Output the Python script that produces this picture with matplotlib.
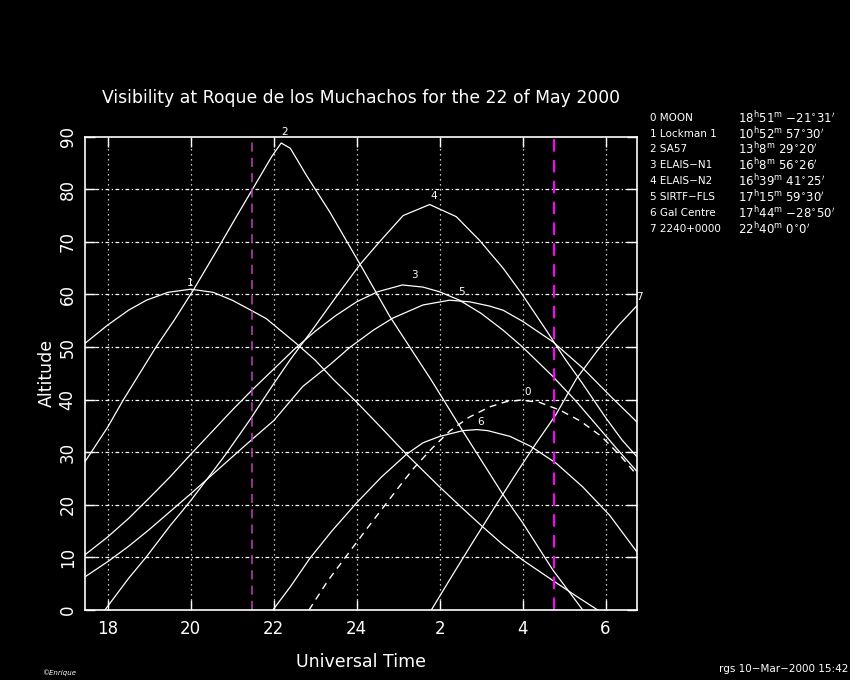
import matplotlib
matplotlib.use("Agg")
import matplotlib.pyplot as plt

# universal time in hours after 0h of the 22nd (24 -> 0h of next day)
moon_t = [22.85, 23.3, 23.86, 24.25, 24.65, 25.0, 25.38, 25.8, 26.24, 26.7, 27.2,
          27.6, 27.95, 28.4, 28.9, 29.4, 29.9, 30.35, 30.75]
moon_alt = [0, 5.5, 11.4, 15.5, 19.6, 23.2, 27.0, 30.6, 34.0, 36.6, 38.6,
            39.6, 39.9, 39.5, 38.0, 35.9, 33.0, 29.4, 25.7]

lockman_t = [17.45, 18.0, 18.5, 18.93, 19.45, 20.0, 20.54, 21.0, 21.45, 21.82, 22.54,
             23.0, 23.43, 23.99, 24.6, 25.2, 26.0, 26.5, 27.04, 27.5, 28.0, 28.73, 29.3, 29.81]
lockman_alt = [50.7, 54.2, 57.0, 58.9, 60.4, 61.0, 60.4, 58.9, 57.0, 55.4, 50.7,
               47.5, 43.9, 39.6, 34.6, 29.6, 23.4, 19.7, 15.8, 12.6, 9.5, 5.6, 2.6, 0]

sa57_t = [17.45, 18.0, 18.37, 19.17, 19.6, 20.06, 20.6, 21.1, 21.6, 21.95, 22.18,
          22.4, 22.8, 23.35, 24.07, 24.8, 25.8, 26.56, 27.53, 28.0, 28.73, 29.45]
sa57_alt = [28.2, 34.8, 39.9, 50.1, 55.1, 60.8, 68.0, 74.8, 81.5, 86.2, 88.8,
            87.8, 82.5, 75.7, 65.9, 55.8, 43.7, 34.0, 21.9, 16.6, 7.6, 0]

n1_t = [17.45, 18.0, 18.5, 19.0, 19.5, 20.0, 20.5, 21.0, 21.5, 22.0, 22.5, 23.0, 23.5,
        24.0, 24.5, 25.1, 25.6, 26.0, 26.48, 27.0, 27.53, 28.0, 28.73, 29.3, 29.8, 30.3, 30.75]
n1_alt = [10.5, 13.9, 17.4, 21.3, 25.3, 29.6, 33.8, 38.0, 42.0, 45.8, 49.6, 53.0, 56.0,
          58.6, 60.5, 61.8, 61.4, 60.5, 58.9, 56.4, 53.2, 50.0, 44.4, 39.6, 35.0, 30.4, 26.4]

n2_t = [17.93, 18.5, 18.93, 19.5, 19.98, 20.5, 20.86, 21.42, 21.98, 22.39, 22.87, 23.5,
        24.07, 24.55, 25.12, 25.76, 26.4, 26.96, 27.53, 28.0, 28.57, 29.0, 29.45, 30.0, 30.4, 30.75]
n2_alt = [0, 6.0, 10.1, 16.0, 20.6, 26.0, 29.8, 36.1, 42.8, 47.5, 52.6, 59.5,
          65.6, 70.0, 75.0, 77.1, 74.8, 70.3, 65.0, 59.9, 53.2, 48.0, 43.0, 36.6, 32.3, 29.2]

fls_t = [17.45, 18.0, 18.5, 19.0, 19.5, 20.0, 20.5, 21.0, 21.5, 22.0, 22.7, 23.35, 23.83,
         24.4, 24.87, 25.6, 26.24, 26.72, 27.2, 27.53, 28.0, 28.73, 29.45, 30.1, 30.75]
fls_alt = [6.3, 9.2, 12.1, 15.3, 18.7, 22.1, 25.6, 29.1, 32.6, 36.0, 42.5, 46.6, 49.9,
           53.2, 55.5, 58.0, 58.9, 58.6, 57.8, 57.0, 54.9, 51.0, 46.0, 40.8, 35.8]

gc_t = [21.98, 22.4, 22.87, 23.4, 23.99, 24.6, 25.2, 25.6, 26.0, 26.56, 26.9, 27.16,
        27.7, 28.2, 28.81, 29.45, 30.1, 30.75]
gc_alt = [0, 4.4, 9.8, 15.0, 20.3, 25.3, 29.6, 31.8, 33.0, 34.1, 34.3, 34.1,
          33.0, 31.1, 27.9, 23.4, 18.0, 11.1]

eq_t = [25.8, 26.3, 26.8, 27.3, 27.8, 28.3, 28.8, 29.3, 29.8, 30.3, 30.75]
eq_alt = [0, 6.5, 12.9, 19.2, 25.4, 31.4, 37.1, 44.0, 49.3, 54.0, 57.8]

# curve number labels (position near each curve)
label_nums = ['0', '1', '2', '3', '4', '5', '6', '7']
label_t = [28.12, 19.98, 22.27, 25.4, 25.86, 26.53, 26.99, 30.82]
label_alt = [41.4, 62.2, 90.8, 63.7, 78.7, 60.5, 35.7, 59.5]

names = ['MOON', 'Lockman 1', 'SA57', 'ELAIS\u2212N1', 'ELAIS\u2212N2',
         'SIRTF\u2212FLS', 'Gal Centre', '2240+0000']
coords = [r'18$^{\rm h}$51$^{\rm m}$ $-$21$^{\circ}$31$^{\prime}$',
          r'10$^{\rm h}$52$^{\rm m}$ 57$^{\circ}$30$^{\prime}$',
          r'13$^{\rm h}$8$^{\rm m}$ 29$^{\circ}$20$^{\prime}$',
          r'16$^{\rm h}$8$^{\rm m}$ 56$^{\circ}$26$^{\prime}$',
          r'16$^{\rm h}$39$^{\rm m}$ 41$^{\circ}$25$^{\prime}$',
          r'17$^{\rm h}$15$^{\rm m}$ 59$^{\circ}$30$^{\prime}$',
          r'17$^{\rm h}$44$^{\rm m}$ $-$28$^{\circ}$50$^{\prime}$',
          r'22$^{\rm h}$40$^{\rm m}$ 0$^{\circ}$0$^{\prime}$']

twilight = [21.47, 28.75]

xticks = [18, 20, 22, 24, 26, 28, 30]
xticklabels = ['18', '20', '22', '24', '2', '4', '6']
yticks = [0, 10, 20, 30, 40, 50, 60, 70, 80, 90]

fig = plt.figure(figsize=(8.5, 6.8), dpi=100, facecolor='black')
ax = fig.add_axes([0.1, 0.103, 0.649, 0.696], facecolor='black')

ax.plot(moon_t, moon_alt, color='white', lw=1, linestyle=(0, (5, 4)))
for t, a in [(lockman_t, lockman_alt), (sa57_t, sa57_alt), (n1_t, n1_alt),
             (n2_t, n2_alt), (fls_t, fls_alt), (gc_t, gc_alt), (eq_t, eq_alt)]:
    ax.plot(t, a, color='white', lw=0.9)

ax.axvline(twilight[0], color='#c040c0', lw=1.1, linestyle=(0, (6, 4)))
ax.axvline(twilight[1], color='#ff00ff', lw=1.5, linestyle=(0, (6, 4)))

for s, t, a in zip(label_nums, label_t, label_alt):
    ax.text(t, a, s, color='white', fontsize=7.5, ha='center', va='center', clip_on=False)

ax.set_xlim(17.45, 30.75)
ax.set_ylim(0, 90)
ax.set_xticks(xticks)
ax.set_xticklabels(xticklabels)
ax.set_yticks(yticks)
for x in xticks:
    ax.axvline(x, color='white', lw=0.9, linestyle=(0, (1, 3)), zorder=0)
for y in yticks[1:-1]:
    ax.axhline(y, color='white', lw=0.9, linestyle=(0, (3, 2, 1, 2)), zorder=0)

ax.tick_params(direction='in', length=7, width=1, colors='white', labelsize=12,
               top=True, right=True)
ax.tick_params(axis='x', pad=7)
ax.tick_params(axis='y', labelrotation=90, pad=6)
for lab in ax.get_yticklabels():
    lab.set_va('center')
for sp in ax.spines.values():
    sp.set_color('white')
    sp.set_linewidth(1.2)

ax.set_title('Visibility at Roque de los Muchachos for the 22 of May 2000',
             color='white', fontsize=12.4, pad=24)
ax.set_xlabel('Universal Time', color='white', fontsize=12.5, labelpad=11)
ax.set_ylabel('Altitude', color='white', fontsize=12.5, labelpad=2)

for i in range(8):
    y = 0.827 - i * 0.0234
    fig.text(0.765, y, f'{i} {names[i]}', color='white', fontsize=7.5, va='center')
    fig.text(0.868, y, coords[i], color='white', fontsize=8.5, va='center')

fig.text(0.998, 0.016, 'rgs 10\u2212Mar\u22122000 15:42', color='white', fontsize=7.5,
         ha='right', va='center')
fig.text(0.05, 0.011, '\u00a9Enrique', color='white', fontsize=5, style='italic',
         ha='left', va='center')

fig.savefig('out.png', dpi=100, facecolor='black')
